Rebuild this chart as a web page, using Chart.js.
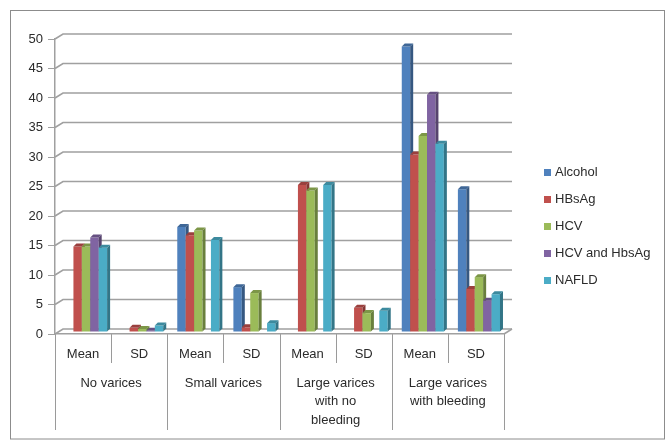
<!DOCTYPE html>
<html>
<head>
<meta charset="utf-8">
<script src="https://cdn.jsdelivr.net/npm/chart.js@4.4.0/dist/chart.umd.min.js"></script>
<style>
  html, body { margin: 0; padding: 0; background: #fff; }
  #wrap { width: 668px; height: 441px; position: relative; }
</style>
</head>
<body>
<div id="wrap"><canvas id="c"></canvas></div>
<script>
// Sub-categories along the x axis and the variceal groups they belong to
const categories = ['Mean', 'SD', 'Mean', 'SD', 'Mean', 'SD', 'Mean', 'SD'];
const groupLabels = [
  ['No varices'],
  ['Small varices'],
  ['Large varices', 'with no', 'bleeding'],
  ['Large varices', 'with bleeding']
];

// Series by aetiology (null = no bar)
const seriesNames = ['Alcohol', 'HBsAg', 'HCV', 'HCV and HbsAg', 'NAFLD'];
const alcohol   = [null, null, 17.8, 7.6, null, null, 48.4, 24.2];
const hbsag     = [14.5, 0.7, 16.4, 0.8, 24.9, 4.1, 30.1, 7.3];
const hcv       = [14.5, 0.5, 17.2, 6.6, 24.0, 3.2, 33.2, 9.3];
const hcvHbsag  = [16.0, 0.2, null, null, null, null, 40.2, 5.3];
const nafld     = [14.3, 1.1, 15.6, 1.5, 24.9, 3.6, 31.9, 6.4];

// Value axis
const yMin = 0, yMax = 50, yStep = 5;

const seriesColors = ['#4F81BD', '#C0504D', '#9BBB59', '#8064A2', '#4BACC6'];
const FONT = '"Liberation Sans", Arial, sans-serif';
const TEXT = '#2b2b2b';
const LINE = '#a0a0a0';

// pseudo-3D geometry
const WALL_DX = 8, WALL_DY = 5;     // depth of back wall / floor
const BAR_DX = 3, BAR_DY = 3;       // depth of each column
const BAR_SHIFT_X = 3, BAR_SHIFT_Y = -2;

function shade(hex, f) {
  const n = parseInt(hex.slice(1), 16);
  const r = (n >> 16) & 255, g = (n >> 8) & 255, b = n & 255;
  const m = v => Math.max(0, Math.min(255, Math.round(v * f)));
  return `rgb(${m(r)},${m(g)},${m(b)})`;
}

const decor = {
  id: 'decor',
  beforeDraw(chart) {
    const { ctx, chartArea: a, scales: { x, y } } = chart;
    ctx.save();
    // outer frame
    ctx.strokeStyle = '#8c8c8c';
    ctx.lineWidth = 1;
    ctx.strokeRect(10.5, 10.5, 654, 428.5);

    // back-wall gridlines with their slanted join to the value axis
    ctx.strokeStyle = LINE;
    ctx.lineWidth = 1.6;
    y.ticks.forEach(t => {
      const py = y.getPixelForValue(t.value);
      ctx.beginPath();
      ctx.moveTo(a.left, py);
      ctx.lineTo(a.left + WALL_DX, py - WALL_DY);
      ctx.lineTo(a.right + WALL_DX, py - WALL_DY);
      ctx.stroke();
    });
    // floor right edge
    ctx.beginPath();
    ctx.moveTo(a.right, a.bottom);
    ctx.lineTo(a.right + WALL_DX, a.bottom - WALL_DY);
    ctx.stroke();

    // category dividers below the floor
    ctx.lineWidth = 1;
    ctx.strokeStyle = '#9a9a9a';
    const half = (x.getPixelForValue(1) - x.getPixelForValue(0)) / 2;
    for (let k = 0; k <= categories.length; k++) {
      const px = Math.round((k < categories.length ? x.getPixelForValue(k) - half : x.getPixelForValue(k - 1) + half)) + 0.5;
      const len = (k % 2 === 0) ? 96 : 29;
      ctx.beginPath();
      ctx.moveTo(px, a.bottom);
      ctx.lineTo(px, a.bottom + len);
      ctx.stroke();
    }
    ctx.restore();
  },
  beforeDatasetsDraw(chart) {
    const ctx = chart.ctx;
    ctx.save();
    ctx.translate(BAR_SHIFT_X, BAR_SHIFT_Y);
    chart.data.datasets.forEach((ds, i) => {
      const meta = chart.getDatasetMeta(i);
      const col = ds.backgroundColor;
      meta.data.forEach((el, j) => {
        if (ds.data[j] == null) return;
        el.draw(ctx);
        const L = el.x - el.width / 2, R = el.x + el.width / 2;
        const T = Math.min(el.y, el.base), B = Math.max(el.y, el.base);
        // right side face
        ctx.fillStyle = shade(col, 0.68);
        ctx.beginPath();
        ctx.moveTo(R, T);
        ctx.lineTo(R + BAR_DX, T - BAR_DY);
        ctx.lineTo(R + BAR_DX, B - BAR_DY);
        ctx.lineTo(R, B);
        ctx.closePath();
        ctx.fill();
        // top face
        ctx.fillStyle = shade(col, 0.8);
        ctx.beginPath();
        ctx.moveTo(L, T);
        ctx.lineTo(L + BAR_DX, T - BAR_DY);
        ctx.lineTo(R + BAR_DX, T - BAR_DY);
        ctx.lineTo(R, T);
        ctx.closePath();
        ctx.fill();
      });
    });
    ctx.restore();
    return false;
  },
  afterDraw(chart) {
    const { ctx, scales: { x } } = chart;
    ctx.save();
    // group labels under each Mean/SD pair
    ctx.fillStyle = TEXT;
    ctx.font = '13px ' + FONT;
    ctx.textAlign = 'center';
    ctx.textBaseline = 'middle';
    groupLabels.forEach((lines, g) => {
      const cx = (x.getPixelForValue(2 * g) + x.getPixelForValue(2 * g + 1)) / 2;
      lines.forEach((ln, k) => ctx.fillText(ln, cx, 383 + k * 18.5));
    });

    // legend
    ctx.font = '13px ' + FONT;
    ctx.textAlign = 'left';
    chart.data.datasets.forEach((ds, i) => {
      const cy = 172 + i * 27.2;
      ctx.fillStyle = ds.backgroundColor;
      ctx.fillRect(544, Math.round(cy - 3.5), 7, 7);
      ctx.fillStyle = TEXT;
      ctx.fillText(ds.label, 555, cy);
    });
    ctx.restore();
  }
};

const seriesData = [alcohol, hbsag, hcv, hcvHbsag, nafld];

new Chart(document.getElementById('c'), {
  type: 'bar',
  data: {
    labels: categories,
    datasets: seriesNames.map((name, i) => ({
      label: name,
      data: seriesData[i],
      backgroundColor: seriesColors[i],
      borderWidth: 0,
      categoryPercentage: 0.75,
      barPercentage: 1.0
    }))
  },
  options: {
    responsive: true,
    maintainAspectRatio: false,
    animation: false,
    layout: { padding: { left: 0, top: 39, right: 164, bottom: 0 } },
    plugins: { legend: { display: false }, tooltip: { enabled: false } },
    scales: {
      x: {
        grid: { display: false, drawTicks: false },
        border: { display: true, color: LINE, width: 1.5 },
        ticks: { color: TEXT, font: { family: FONT, size: 13 }, padding: 13, maxRotation: 0, autoSkip: false },
        afterFit(scale) { scale.height = 107; }
      },
      y: {
        min: yMin,
        max: yMax,
        ticks: { stepSize: yStep, color: TEXT, font: { family: FONT, size: 13 }, padding: 5 },
        grid: { drawOnChartArea: false, drawTicks: true, tickLength: 7, color: LINE },
        border: { display: true, color: LINE, width: 1.5 },
        afterFit(scale) { scale.width = 55; }
      }
    }
  },
  plugins: [decor]
});
</script>
</body>
</html>
